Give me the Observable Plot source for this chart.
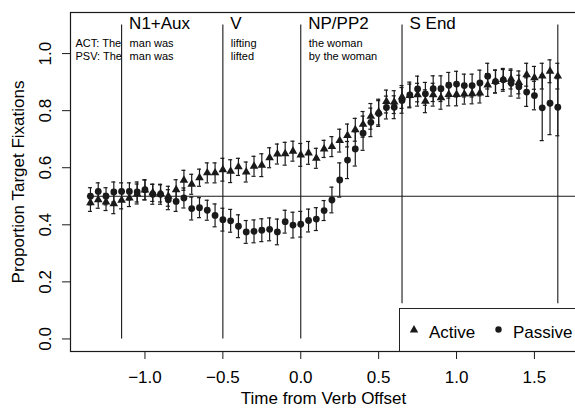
<!DOCTYPE html>
<html>
<head>
<meta charset="utf-8">
<script src="https://cdn.jsdelivr.net/npm/d3@7"></script>
<script src="https://cdn.jsdelivr.net/npm/@observablehq/plot@0.6"></script>
<style>
  html, body { margin: 0; padding: 0; background: #fff; overflow: hidden; }
  #wrap { position: relative; width: 575px; height: 408px; font-family: "Liberation Sans", Arial, sans-serif; }
  #legend { position: absolute; left: 399px; top: 308px; width: 200px; height: 43px;
            border-left: 1px solid #222; border-top: 1px solid #222; box-sizing: content-box; }
  #legend svg { position: absolute; left: 0; top: 0; }
</style>
</head>
<body>
<div id="wrap">
  <div id="chart"></div>
  <div id="legend"></div>
</div>
<script>
// ---- data ----
const times = [
  -1.35,-1.30,-1.25,-1.20,-1.15,-1.10,-1.05,-1.00,-0.95,-0.90,
  -0.85,-0.80,-0.75,-0.70,-0.65,-0.60,-0.55,-0.50,-0.45,-0.40,
  -0.35,-0.30,-0.25,-0.20,-0.15,-0.10,-0.05,0.00,0.05,0.10,
  0.15,0.20,0.25,0.30,0.35,0.40,0.45,0.50,0.55,0.60,
  0.65,0.70,0.75,0.80,0.85,0.90,0.95,1.00,1.05,1.10,
  1.15,1.20,1.25,1.30,1.35,1.40,1.45,1.50,1.55,1.60,
  1.65
];
const activeValues = [
  0.477,0.488,0.480,0.474,0.486,0.494,0.508,0.522,0.512,0.510,
  0.500,0.523,0.556,0.542,0.565,0.582,0.582,0.593,0.588,0.603,
  0.585,0.605,0.609,0.635,0.648,0.649,0.658,0.645,0.652,0.633,
  0.666,0.674,0.695,0.713,0.733,0.752,0.780,0.795,0.832,0.830,
  0.848,0.853,0.856,0.833,0.856,0.845,0.857,0.857,0.858,0.859,
  0.862,0.890,0.902,0.909,0.911,0.899,0.926,0.915,0.921,0.938,
  0.921
];
const passiveValues = [
  0.500,0.517,0.500,0.515,0.517,0.517,0.515,0.523,0.507,0.507,
  0.488,0.482,0.494,0.457,0.460,0.451,0.433,0.418,0.414,0.395,
  0.375,0.377,0.381,0.384,0.375,0.411,0.399,0.402,0.415,0.420,
  0.450,0.487,0.557,0.627,0.666,0.721,0.759,0.790,0.811,0.812,
  0.836,0.855,0.876,0.859,0.877,0.877,0.889,0.893,0.888,0.888,
  0.897,0.921,0.902,0.908,0.896,0.884,0.865,0.853,0.810,0.826,
  0.812
];
const activeErr = [
  0.030,0.030,0.030,0.035,0.030,0.030,0.035,0.035,0.030,0.030,
  0.035,0.035,0.035,0.035,0.030,0.035,0.035,0.040,0.040,0.030,
  0.035,0.035,0.040,0.035,0.035,0.040,0.035,0.040,0.040,0.035,
  0.030,0.035,0.040,0.040,0.040,0.045,0.045,0.045,0.040,0.040,
  0.040,0.040,0.040,0.040,0.040,0.040,0.040,0.040,0.035,0.035,
  0.035,0.040,0.040,0.035,0.035,0.040,0.040,0.040,0.045,0.040,
  0.045
];
const passiveErr = [
  0.030,0.030,0.030,0.035,0.030,0.030,0.035,0.035,0.035,0.035,
  0.035,0.035,0.035,0.040,0.035,0.035,0.040,0.040,0.040,0.040,
  0.040,0.040,0.040,0.040,0.045,0.040,0.045,0.045,0.040,0.040,
  0.035,0.045,0.060,0.065,0.060,0.060,0.050,0.045,0.040,0.040,
  0.045,0.045,0.045,0.040,0.045,0.045,0.045,0.045,0.040,0.040,
  0.045,0.045,0.040,0.040,0.045,0.040,0.050,0.050,0.115,0.110,
  0.100
];
const boundaryTimes = [-1.15, -0.5, 0, 0.65, 1.65];
const boundaryBottoms = [0, 0, 0, 0.123, 0.123];
const boundaryTop = 1.1;
const regionStarts = [-1.15, -0.5, 0, 0.65];
const regionNames = ["N1+Aux", "V", "NP/PP2", "S End"];
const wordStarts = [-1.15, -0.5, 0];
const activeWords = ["man was", "lifting", "the woman"];
const passiveWords = ["man was", "lifted", "by the woman"];
const activeRowLabel = "ACT: The";
const passiveRowLabel = "PSV: The";
const chanceLevel = 0.5;
const xTicks = [-1.0, -0.5, 0.0, 0.5, 1.0, 1.5];
const yTicks = [0.0, 0.2, 0.4, 0.6, 0.8, 1.0];
const xDomain = [-1.478, 1.77];
const yDomain = [-0.044, 1.144];
const seriesNames = ["Active", "Passive"];

// ---- build tables ----
const active = times.map((t, i) => ({t, v: activeValues[i], e: activeErr[i]}));
const passive = times.map((t, i) => ({t, v: passiveValues[i], e: passiveErr[i]}));
const boundaries = boundaryTimes.map((t, i) => ({t, b: boundaryBottoms[i]}));
const fmt = d3.format(".1f");
const ink = "#1a1a1a";
const cap = 0.013;

function errorMarks(data) {
  return [
    Plot.ruleX(data, {x: "t", y1: d => d.v - d.e, y2: d => d.v + d.e, stroke: ink, strokeWidth: 1.2}),
    Plot.ruleY(data, {y: d => d.v + d.e, x1: d => d.t - cap, x2: d => d.t + cap, stroke: ink, strokeWidth: 1.2}),
    Plot.ruleY(data, {y: d => d.v - d.e, x1: d => d.t - cap, x2: d => d.t + cap, stroke: ink, strokeWidth: 1.2})
  ];
}

const small = {textAnchor: "start", lineAnchor: "middle", fontSize: 11, fill: "#000"};

const chart = Plot.plot({
  width: 575,
  height: 408,
  marginLeft: 70,
  marginRight: -1,
  marginTop: 12,
  marginBottom: 57,
  style: {fontFamily: '"Liberation Sans", Arial, sans-serif', fontSize: "17px", color: "#000", background: "#fff", overflow: "visible"},
  x: {domain: xDomain, label: null},
  y: {domain: yDomain, label: null},
  marks: [
    Plot.frame({stroke: ink, strokeWidth: 1.2}),
    Plot.ruleX(boundaries, {x: "t", y1: "b", y2: boundaryTop, stroke: ink, strokeWidth: 1.1}),
    Plot.ruleY([chanceLevel], {x1: times[0] - 0.02, x2: xDomain[1], stroke: ink, strokeWidth: 1.1}),
    ...errorMarks(active),
    ...errorMarks(passive),
    Plot.dot(active, {x: "t", y: "v", symbol: "triangle", r: 3.2, fill: ink, stroke: null}),
    Plot.dot(passive, {x: "t", y: "v", symbol: "circle", r: 3.4, fill: ink, stroke: null}),
    Plot.axisX({ticks: xTicks, tickSize: 8, tickPadding: 11, tickFormat: fmt, label: null, stroke: ink}),
    Plot.axisY({ticks: yTicks, tickSize: 8, tickFormat: () => "", label: null, stroke: ink}),
    Plot.text(yTicks, {frameAnchor: "left", y: d => d, text: d => fmt(d), rotate: -90, dx: -25,
      textAnchor: "middle", lineAnchor: "middle", fontSize: 17, fill: "#000"}),
    Plot.text(["Proportion Target Fixations"], {frameAnchor: "left", dx: -52, rotate: -90,
      textAnchor: "middle", lineAnchor: "middle", fontSize: 17, fill: "#000"}),
    Plot.text(["Time from Verb Offset"], {frameAnchor: "bottom", dy: 47, textAnchor: "middle", lineAnchor: "middle", fontSize: 17, fill: "#000"}),
    Plot.text(regionNames, {x: (d, i) => regionStarts[i], frameAnchor: "top", dy: 11, dx: 7.5,
      textAnchor: "start", lineAnchor: "middle", fontSize: 17, fill: "#000"}),
    Plot.text(activeWords, {x: (d, i) => wordStarts[i], frameAnchor: "top", dy: 30.5, dx: 8, ...small}),
    Plot.text(passiveWords, {x: (d, i) => wordStarts[i], frameAnchor: "top", dy: 44, dx: 8, ...small}),
    Plot.text([activeRowLabel], {frameAnchor: "top-left", dy: 30.5, dx: 5, ...small}),
    Plot.text([passiveRowLabel], {frameAnchor: "top-left", dy: 44, dx: 5, ...small})
  ]
});
document.getElementById("chart").appendChild(chart);

// ---- legend (HTML overlay) ----
const ns = "http://www.w3.org/2000/svg";
const lg = document.createElementNS(ns, "svg");
lg.setAttribute("width", 200); lg.setAttribute("height", 44);
const tri = document.createElementNS(ns, "path");
tri.setAttribute("d", "M14,16 L18.2,23.4 L9.8,23.4 Z"); tri.setAttribute("fill", ink);
const cir = document.createElementNS(ns, "circle");
cir.setAttribute("cx", 98.5); cir.setAttribute("cy", 20.5); cir.setAttribute("r", 3.2); cir.setAttribute("fill", ink);
lg.appendChild(tri); lg.appendChild(cir);
[[29, seriesNames[0]], [113, seriesNames[1]]].forEach(([x, s]) => {
  const t = document.createElementNS(ns, "text");
  t.setAttribute("x", x); t.setAttribute("y", 28.5);
  t.setAttribute("font-size", 17); t.setAttribute("font-family", '"Liberation Sans", Arial, sans-serif');
  t.textContent = s; lg.appendChild(t);
});
document.getElementById("legend").appendChild(lg);
</script>
</body>
</html>
